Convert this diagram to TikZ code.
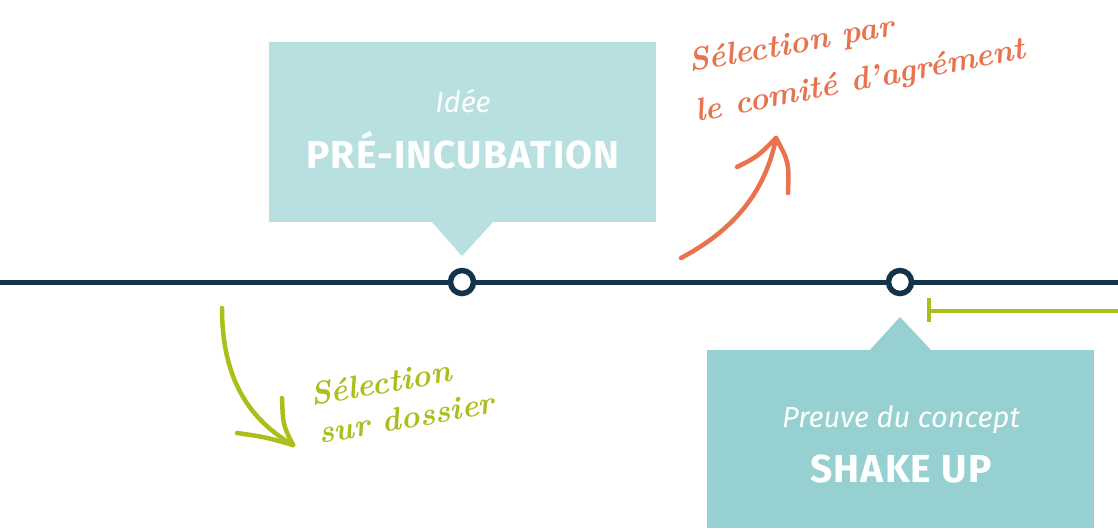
\documentclass[tikz,border=0pt]{standalone}
\usepackage{fontspec}
\newfontfamily\boxf{Fira Sans}
\newfontfamily\boxcaps{Fira Sans}[LetterSpace=3]
\definecolor{navy}{HTML}{12334A}
\definecolor{boxA}{HTML}{B8E0E1}
\definecolor{boxB}{HTML}{97D0D1}
\definecolor{lime}{HTML}{ABBE1A}
\definecolor{coral}{HTML}{E8734E}
\tikzset{
  panel/.style={rectangle, inner sep=0pt, minimum width=387pt, minimum height=180pt},
  dot/.style={circle, draw=navy, line width=5.5pt, fill=white, minimum size=23pt, inner sep=0pt},
  subtitle/.style={text=white, font=\boxf\itshape\fontsize{29}{32}\selectfont, anchor=base, inner sep=0pt},
  title/.style={text=white, font=\boxcaps\bfseries\fontsize{39}{44}\selectfont, anchor=base, inner sep=0pt},
  hand/.style={font=\bfseries\itshape\fontsize{32}{36}\selectfont, inner sep=0pt, anchor=base west},
  curvy/.style={line width=4.5pt, line cap=round, line join=round},
}
\begin{document}
\begin{tikzpicture}[x=1pt,y=-1pt]
\useasboundingbox[fill=white] (0,0) rectangle (1118,528);

% boxes
\node[panel, fill=boxA] (b1) at (462.5,132) {};
\fill[boxA] (431,221) -- (462,256) -- (494,221) -- cycle;
\node[panel, fill=boxB, minimum height=178pt] (b2) at (900.5,439) {};
\fill[boxB] (869,351) -- (900,317) -- (932,351) -- cycle;

% timeline
\coordinate (L) at (0,282);
\coordinate (R) at (1118,282);
\node[dot] (c1) at (462,282) {};
\node[dot] (c2) at (900,282) {};
\draw[navy, line width=5pt] (L) -- (c1) (c1) -- (c2) (c2) -- (R);

% green bracket line
\coordinate (gS) at (929,311);
\coordinate (gE) at (1118,311);
\coordinate (gT1) at (929,298);
\coordinate (gT2) at (929,322);
\draw[lime, line width=4pt] (gS) -- (gE);
\draw[lime, line width=4pt] (gT1) -- (gT2);

% box texts
\node[subtitle] (s1) at (463,112) {Idée};
\node[title] (h1) at (463,168) {PRÉ-INCUBATION};
\node[subtitle] (s2) at (901,427) {Preuve du concept};
\node[title] (h2) at (901,482) {SHAKE UP};

% orange arrow
\coordinate (oS) at (681,258);
\coordinate (oE) at (776,138);
\coordinate (oB1) at (737,167);
\coordinate (oB2) at (788,193);
\draw[coral, curvy] (oS) .. controls (730,232) and (765,195) .. (oE);
\draw[coral, curvy] (oB1) .. controls (757,157) .. (oE);
\draw[coral, curvy] (oB2) .. controls (789,162) .. (oE);

% green arrow
\coordinate (gaS) at (222,308);
\coordinate (gaE) at (293,445);
\coordinate (gaB1) at (237,433);
\coordinate (gaB2) at (282,398);
\draw[lime, curvy] (gaS) .. controls (222,380) and (250,420) .. (gaE);
\draw[lime, curvy] (gaB1) .. controls (265,437) .. (gaE);
\draw[lime, curvy] (gaB2) .. controls (283,425) .. (gaE);

% handwritten labels
\node[hand, text=coral, rotate=10] (o1) at (690,72) {Sélection par};
\node[hand, text=coral, rotate=11] (o2) at (697,122) {le comité d'agrément};
\node[hand, text=lime, rotate=10] (g1) at (312,406) {Sélection};
\node[hand, text=lime, rotate=10] (g2) at (320,444) {sur dossier};
\end{tikzpicture}
\end{document}
